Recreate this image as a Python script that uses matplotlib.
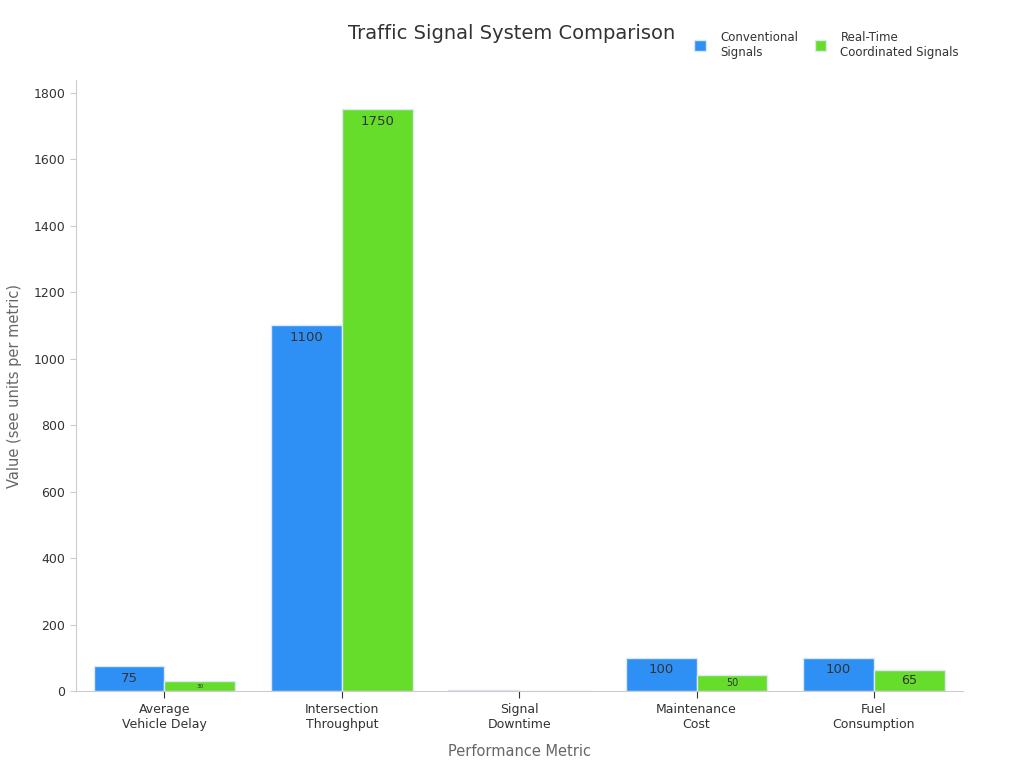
import numpy as np
import matplotlib
matplotlib.use("Agg")
import matplotlib.pyplot as plt

categories = ["Average\nVehicle Delay", "Intersection\nThroughput", "Signal\nDowntime",
              "Maintenance\nCost", "Fuel\nConsumption"]
conventional = [75, 1100, 5, 100, 100]
realtime = [30, 1750, 1, 50, 65]
series_names = ["Conventional\nSignals", "Real-Time\nCoordinated Signals"]
colors = ["#2E90F5", "#66DD2A"]

plt.rcParams["font.family"] = ["DejaVu Sans"]

fig = plt.figure(figsize=(10.24, 7.68), dpi=100)
ax = fig.add_axes([0.074, 0.100, 0.866, 0.796])

x = np.arange(len(categories))
width = 0.4
px_per_unit = 598 / 1800.0

for i, (vals, name, col) in enumerate(zip([conventional, realtime], series_names, colors)):
    xs = x + (i - 0.5) * width
    ax.bar(xs, vals, width=width, color=col, edgecolor="#dce8f5", linewidth=1, label=name)
    for xi, v in zip(xs, vals):
        h = v * px_per_unit
        fs = min(9.5, h * 0.42)
        if fs < 1:
            continue
        if h > 24:
            ax.annotate(str(v), (xi, v), xytext=(0, -4), textcoords="offset points",
                        ha="center", va="top", fontsize=fs, color="#333333")
        else:
            ax.text(xi, v / 2, str(v), ha="center", va="center", fontsize=fs, color="#333333")

ax.set_xlim(-0.5, len(categories) - 0.5)
ax.set_ylim(0, 1838)
ax.set_yticks(range(0, 1801, 200))
ax.set_xticks(x)
ax.set_xticklabels(categories, fontsize=9, color="#333333")
ax.tick_params(axis="y", labelsize=9, colors="#333333", length=4, color="#cccccc")
ax.tick_params(axis="x", length=5, color="#333333")
for s in ["top", "right"]:
    ax.spines[s].set_visible(False)
for s in ["left", "bottom"]:
    ax.spines[s].set_color("#cccccc")

ax.set_xlabel("Performance Metric", fontsize=10.5, color="#666666", labelpad=9)
ax.set_ylabel("Value (see units per metric)", fontsize=10.5, color="#666666", labelpad=8)

fig.text(0.5, 0.957, "Traffic Signal System Comparison", ha="center", va="center",
         fontsize=14, color="#333333")

leg = ax.legend(loc="center right", bbox_to_anchor=(0.947, 0.942), bbox_transform=fig.transFigure,
                ncol=2, frameon=False, fontsize=8.5, handlelength=1.0, handleheight=1.0,
                columnspacing=1.4, handletextpad=1.2)
for t in leg.get_texts():
    t.set_color("#333333")

fig.savefig("out.png", dpi=100)
